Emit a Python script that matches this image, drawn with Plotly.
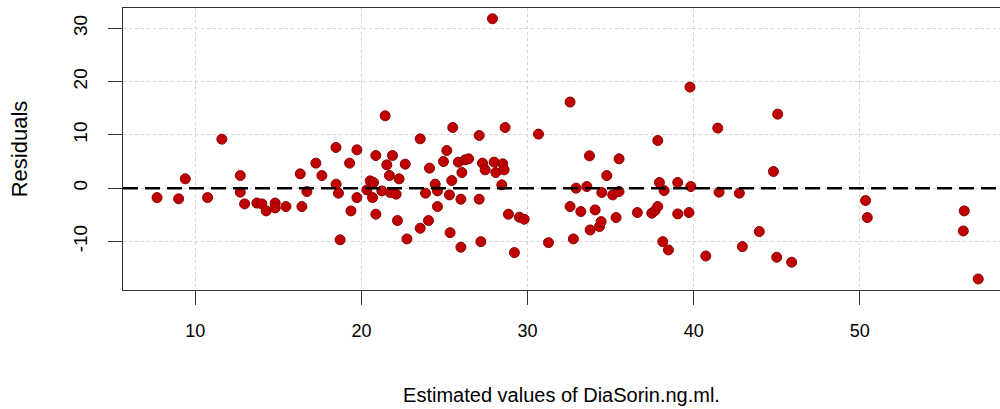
import plotly.graph_objects as go

# Estimated values (x) and residuals (y)
estimated = [
    7.70, 9.00, 9.40, 10.74, 11.60, 12.71, 12.71, 12.97, 13.71, 14.01, 14.27, 14.81, 14.81, 15.46,
    16.32, 16.42, 16.72, 17.26, 17.62, 18.47, 18.48, 18.62, 18.72,
    19.29, 19.37, 19.73, 19.73, 20.33, 20.53, 20.73, 20.67, 20.87, 20.87, 21.23, 21.43, 21.53,
    21.69, 21.73, 21.87, 22.09, 22.27, 22.17, 22.64, 22.74, 23.54, 23.54, 23.86, 24.04, 24.10,
    24.44, 24.58, 24.58, 24.94, 25.14, 25.30, 25.34, 25.44, 25.50, 25.84, 25.99, 26.05, 25.99,
    26.25, 26.45, 27.09, 27.09, 27.19, 27.29, 27.45, 27.89, 27.99, 28.09, 28.51, 28.45, 28.59,
    28.65, 28.85, 29.21, 29.51, 29.80, 30.66,
    31.26, 32.56, 32.56, 32.76, 32.92, 33.21, 33.57, 33.73, 33.77, 34.07, 34.33, 34.43, 34.47,
    34.77, 35.13, 35.33, 35.51, 35.51, 36.61, 37.48, 37.68, 37.84, 37.84, 37.94, 38.14, 38.22,
    38.48, 39.04, 39.04, 39.72, 39.78, 39.83, 40.73, 41.45, 41.53,
    42.75, 42.93, 43.95, 44.80, 45.06, 45.00, 45.90, 50.35, 50.45, 56.29, 56.23, 57.13,
]
residuals = [
    -1.77, -2.00, 1.75, -1.77, 9.20, 2.37, -0.75, -2.95, -2.80, -2.95, -4.27, -2.80, -3.70, -3.45,
    2.69, -3.45, -0.63, 4.70, 2.37, 7.64, 0.75, -0.94, -9.70,
    4.70, -4.27, 7.20, -1.77, -0.32, 1.37, 1.06, -1.77, 6.13, -4.89, -0.51, 13.59, 4.38,
    2.37, -0.82, 6.13, -1.13, 1.75, -6.08, 4.51, -9.53, 9.27, -7.52, -0.94, -6.08, 3.76,
    0.75, -0.51, -3.45, 5.00, 7.07, -1.26, -8.35, 1.43, 11.39, 4.89, -2.07, 2.93, -11.09,
    5.32, 5.51, 9.89, -2.07, -10.04, 4.70, 3.44, 31.80, 4.89, 2.93, 4.57, 0.62, 3.44,
    11.39, -4.89, -12.10, -5.45, -5.83, 10.15,
    -10.23, 16.17, -3.45, -9.53, 0.00, -4.39, 0.30, 6.07, -7.84, -4.08, -7.21, -6.28, -0.82,
    2.37, -1.26, -5.52, 5.51, -0.63, -4.58, -4.70, -4.20, -3.45, 8.95, 1.06, -10.04, -0.45,
    -11.60, 1.06, -4.83, -4.58, 18.98, 0.30, -12.73, 11.28, -0.75,
    -0.94, -10.97, -8.15, 3.12, 13.90, -12.97, -13.90, -2.33, -5.52, -4.27, -8.03, -17.05,
]

x_ticks = [10, 20, 30, 40, 50]
x_tick_labels = ["10", "20", "30", "40", "50"]
y_ticks = [-10, 0, 10, 20, 30]
y_tick_labels = ["-10", "0", "10", "20", "30"]

x_title = "Estimated values of DiaSorin.ng.ml."
y_title = "Residuals"

FONT = "Liberation Sans, Arial, sans-serif"

fig = go.Figure()
fig.add_trace(go.Scatter(
    x=estimated, y=residuals, mode="markers",
    marker=dict(size=10, color="#C00000", line=dict(color="#8B0000", width=1)),
    showlegend=False, hoverinfo="x+y",
))

fig.add_hline(y=0, line=dict(color="black", width=2.5, dash="15px,7px"), layer="above")

fig.update_layout(
    width=1000, height=409,
    margin=dict(l=123, r=0, t=8, b=119),
    paper_bgcolor="white", plot_bgcolor="white",
    font=dict(family=FONT, size=18, color="black"),
)
fig.update_xaxes(
    range=[5.65, 58.44], autorange=False,
    tickmode="array", tickvals=x_ticks, ticktext=x_tick_labels,
    tickfont=dict(size=18),
    ticks="outside", ticklen=14, tickwidth=1, tickcolor="#333333",
    ticklabelstandoff=10,
    showline=True, linecolor="#333333", linewidth=1, mirror=True,
    showgrid=True, gridcolor="#D3D3D3", griddash="dot", gridwidth=1,
    zeroline=False,
    title=dict(text=x_title, font=dict(size=20), standoff=48),
    automargin=False,
)
fig.update_yaxes(
    range=[-19.12, 33.83], autorange=False,
    tickmode="array", tickvals=y_ticks, ticktext=y_tick_labels,
    tickfont=dict(size=19),
    tickangle=-90,
    ticks="outside", ticklen=14, tickwidth=1, tickcolor="#333333",
    ticklabelstandoff=13,
    showline=True, linecolor="#333333", linewidth=1, mirror=False,
    showgrid=True, gridcolor="#D3D3D3", griddash="dot", gridwidth=1,
    zeroline=False,
    title=dict(text=y_title, font=dict(size=22), standoff=36),
    automargin=False,
)

fig.write_html("out.html")
